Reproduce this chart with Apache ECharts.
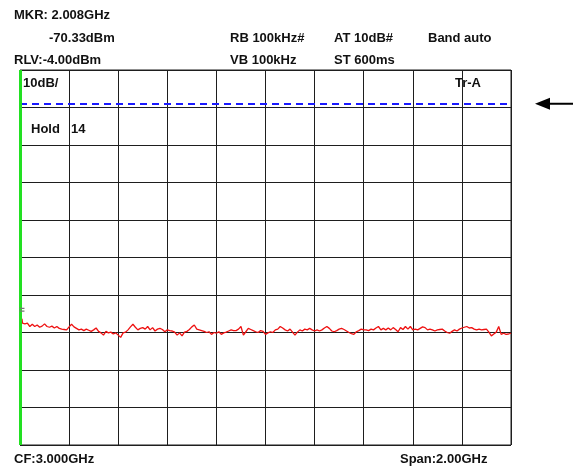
<!DOCTYPE html>
<html>
<head>
<meta charset="utf-8">
<title>Spectrum trace</title>
<script src="https://cdn.jsdelivr.net/npm/echarts@6/dist/echarts.min.js"></script>
<style>
  html, body { margin: 0; padding: 0; background: #ffffff; }
  #chart { width: 573px; height: 473px; }
</style>
</head>
<body>
<div id="chart"></div>
<script>
// Sweep settings (GHz / dBm)
const START_GHZ = 2.0;
const STOP_GHZ = 4.0;
const STEP_GHZ = 0.01;
const REF_LEVEL_DBM = -4;
const DB_PER_DIV = 10;
const DIVISIONS = 10;

// Marker readout
const MARKER_GHZ = 2.008;
const MARKER_DBM = -70.33;

// Threshold (blue dashed) and start-of-sweep bar (green)
const THRESHOLD_DBM = -13;
const SWEEP_BAR_GHZ = 2.004;

// Header / footer texts
const HEADER_TEXTS = [
  'MKR: 2.008GHz', '-70.33dBm', 'RB 100kHz#', 'AT 10dB#', 'Band auto',
  'RLV:-4.00dBm', 'VB 100kHz', 'ST 600ms'
];
const SCREEN_TEXTS = ['10dB/', 'Tr-A', 'Hold', '14'];
const FOOTER_TEXTS = ['CF:3.000GHz', 'Span:2.00GHz'];

// Trace amplitude (dBm), one value per STEP_GHZ from START_GHZ
const TRACE_DBM = [
  -73.0, -71.5, -71.7, -71.5, -72.4, -71.8, -72.4, -72.0, -72.6, -72.3,
  -71.7, -72.4, -72.6, -72.3, -72.8, -72.4, -72.9, -73.1, -73.2, -73.3,
  -72.5, -71.8, -72.5, -72.9, -73.3, -73.1, -73.5, -73.1, -73.4, -73.7,
  -73.3, -72.8, -73.7, -74.1, -74.7, -73.7, -74.1, -73.9, -74.4, -74.1,
  -74.7, -75.3, -74.1, -73.9, -73.3, -72.5, -71.8, -72.6, -73.3, -72.9,
  -72.7, -73.1, -72.4, -73.3, -72.7, -73.6, -73.1, -72.9, -73.2, -73.8,
  -73.3, -73.5, -73.6, -73.9, -74.7, -74.1, -74.9, -73.9, -73.7, -73.2,
  -72.5, -72.0, -73.1, -73.3, -73.5, -73.7, -74.0, -73.8, -74.5, -74.0,
  -74.2, -73.8, -74.5, -74.1, -73.9, -73.6, -73.3, -73.5, -73.5, -73.1,
  -72.4, -74.7, -73.8, -72.9, -73.2, -73.5, -73.8, -74.0, -73.5, -73.7,
  -74.5, -74.1, -73.8, -74.0, -73.3, -73.1, -72.4, -72.8, -73.3, -73.6,
  -73.1, -73.9, -74.7, -73.9, -73.3, -73.6, -73.1, -73.3, -72.9, -73.3,
  -73.6, -73.3, -73.6, -73.3, -72.8, -72.4, -72.9, -73.6, -73.8, -73.5,
  -73.1, -72.9, -73.2, -73.6, -74.0, -74.3, -74.5, -73.8, -73.5, -73.1,
  -73.3, -73.3, -73.5, -73.1, -73.3, -72.8, -72.4, -73.3, -72.9, -73.3,
  -72.8, -73.3, -72.7, -73.2, -73.8, -72.7, -73.2, -72.4, -73.1, -72.4,
  -73.3, -73.1, -73.3, -72.9, -72.5, -72.7, -73.3, -73.1, -73.3, -73.6,
  -73.3, -73.2, -73.1, -73.6, -74.0, -74.2, -73.7, -73.3, -73.6, -73.1,
  -72.8, -72.6, -72.4, -72.8, -72.7, -73.1, -73.3, -73.1, -73.3, -73.2,
  -73.1, -73.9, -74.9, -74.4, -73.9, -72.4, -74.5, -74.2, -74.5, -74.4,
  -74.2
];

// Build [freq, level] pairs and splice the marker reading into the sweep
const traceData = TRACE_DBM.map((v, i) => [+(START_GHZ + i * STEP_GHZ).toFixed(3), v]);
traceData.push([MARKER_GHZ, MARKER_DBM]);
traceData.sort((a, b) => a[0] - b[0]);

const FONT_FAMILY = '"Liberation Sans", Arial, sans-serif';
const GRID_COLOR = '#1e1e1e';
const GRID_BOX = { left: 20, right: 62, top: 70, bottom: 28 };
const CHART_H = 473;

function label(text, x, y) {
  return {
    type: 'text', left: x, top: y - 8, silent: true,
    style: {
      text: text, fill: '#111',
      fontFamily: FONT_FAMILY, fontSize: 13, fontWeight: 'bold'
    }
  };
}

// Screen row of the threshold level, for the pointer outside the screen
const plotH = CHART_H - GRID_BOX.top - GRID_BOX.bottom;
const arrowY = GRID_BOX.top + (REF_LEVEL_DBM - THRESHOLD_DBM) / (DB_PER_DIV * DIVISIONS) * plotH;

const chart = echarts.init(document.getElementById('chart'), null, { renderer: 'canvas' });

const bottomDbm = REF_LEVEL_DBM - DB_PER_DIV * DIVISIONS;

chart.setOption({
  animation: false,
  backgroundColor: '#ffffff',
  grid: Object.assign({
    show: true, borderColor: GRID_COLOR, borderWidth: 1, backgroundColor: '#ffffff'
  }, GRID_BOX),
  xAxis: {
    type: 'value', min: START_GHZ, max: STOP_GHZ, interval: (STOP_GHZ - START_GHZ) / DIVISIONS,
    axisLine: { show: false }, axisTick: { show: false }, axisLabel: { show: false },
    splitLine: { show: true, lineStyle: { color: GRID_COLOR, width: 1 } }
  },
  yAxis: {
    type: 'value', min: bottomDbm, max: REF_LEVEL_DBM, interval: DB_PER_DIV,
    axisLine: { show: false }, axisTick: { show: false }, axisLabel: { show: false },
    splitLine: { show: true, lineStyle: { color: GRID_COLOR, width: 1 } }
  },
  series: [{
    type: 'line',
    data: traceData,
    showSymbol: false,
    symbol: 'none',
    lineStyle: { color: '#ee1111', width: 1.3 },
    z: 3,
    markLine: {
      silent: true,
      symbol: 'none',
      label: { show: false },
      data: [
        { yAxis: THRESHOLD_DBM, lineStyle: { color: '#1a1aff', width: 2, type: [7, 5] } },
        { xAxis: SWEEP_BAR_GHZ, lineStyle: { color: '#22e022', width: 3, type: 'solid' } }
      ]
    },
    markPoint: {
      silent: true,
      data: [{ coord: [MARKER_GHZ, MARKER_DBM] }],
      symbol: 'path://M0,0H6V1.5H0Z M0,3H6V4.5H0Z',
      symbolSize: [5, 4],
      symbolOffset: [0, -9],
      itemStyle: { color: '#777' },
      label: { show: false }
    }
  }],
  graphic: [
    label(HEADER_TEXTS[0], 14, 17),
    label(HEADER_TEXTS[1], 49, 40),
    label(HEADER_TEXTS[2], 230, 40),
    label(HEADER_TEXTS[3], 334, 40),
    label(HEADER_TEXTS[4], 428, 40),
    label(HEADER_TEXTS[5], 14, 62),
    label(HEADER_TEXTS[6], 230, 62),
    label(HEADER_TEXTS[7], 334, 62),
    label(SCREEN_TEXTS[0], 23, 85),
    label(SCREEN_TEXTS[1], 455, 85),
    label(SCREEN_TEXTS[2], 31, 131),
    label(SCREEN_TEXTS[3], 71, 131),
    label(FOOTER_TEXTS[0], 14, 461),
    label(FOOTER_TEXTS[1], 400, 461),
    {
      type: 'line', silent: true,
      shape: { x1: 548, y1: arrowY, x2: 573, y2: arrowY },
      style: { stroke: '#000', lineWidth: 2 }
    },
    {
      type: 'polygon', silent: true,
      shape: { points: [[535, arrowY], [550, arrowY - 6], [550, arrowY + 6]] },
      style: { fill: '#000' }
    }
  ]
});
</script>
</body>
</html>
